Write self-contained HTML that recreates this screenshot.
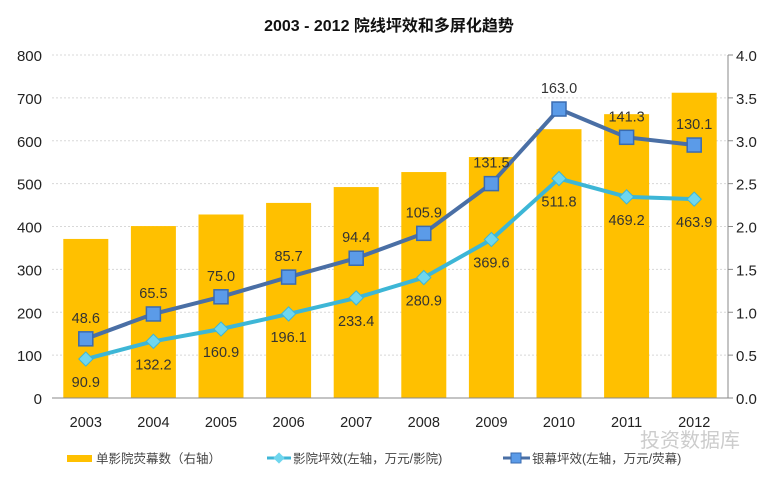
<!DOCTYPE html>
<html><head><meta charset="utf-8">
<style>
body{margin:0;background:#fff;}
svg{display:block;font-family:"Liberation Sans","Noto Sans CJK SC",sans-serif;}
</style></head>
<body>
<svg id="chart" width="778" height="482" viewBox="0 0 778 482">
<text x="389" y="31" text-anchor="middle" font-size="16" font-weight="bold" fill="#111">2003 - 2012 院线坪效和多屏化趋势</text>
<g id="grid"></g>
<g id="bars"></g>
<g id="axes"></g>
<g id="lines"></g>
<g id="legend">
  <g>
    <rect x="67" y="455" width="25" height="7" fill="#FFC000"/>
    <text x="96" y="463" font-size="12.5" fill="#444">单影院荧幕数（右轴）</text>
  </g>
  <g>
    <line x1="267" y1="458" x2="291" y2="458" stroke="#3DB6D6" stroke-width="3"/>
    <rect x="275" y="454" width="8" height="8" fill="#6FD6EE" transform="rotate(45 279 458)"/>
    <text x="293" y="463" font-size="12.5" fill="#444">影院坪效(左轴，万元/影院)</text>
  </g>
  <g>
    <line x1="503" y1="458" x2="530" y2="458" stroke="#4A6FA5" stroke-width="3"/>
    <rect x="511" y="453" width="10" height="10" fill="#5B9BE8" stroke="#3A6BB0"/>
    <text x="532" y="463" font-size="12.5" fill="#444">银幕坪效(左轴，万元/荧幕)</text>
  </g>
</g>
<text x="640" y="447" font-size="20" fill="#ccc">投资数据库</text>
</svg>
<script>
const categories = ["2003","2004","2005","2006","2007","2008","2009","2010","2011","2012"];
const barValues = [371,401,428,455,492,527,562,627,662,712];
const cinemaEff = [90.9,132.2,160.9,196.1,233.4,280.9,369.6,511.8,469.2,463.9];
const screenEffPlot = [0.69,0.98,1.18,1.41,1.63,1.92,2.50,3.37,3.04,2.95];
const screenEffLabels = ["48.6","65.5","75.0","85.7","94.4","105.9","131.5","163.0","141.3","130.1"];
const leftTicks = [0,100,200,300,400,500,600,700,800];
const rightTicks = ["0.0","0.5","1.0","1.5","2.0","2.5","3.0","3.5","4.0"];

const NS="http://www.w3.org/2000/svg";
const X0=52,X1=728,Y0=398,Y1=55;
const step=(X1-X0)/categories.length;
function xc(i){return X0+step*(i+0.5);}
function yl(v){return Y0-(v/800)*(Y0-Y1);}
function yr(v){return Y0-(v/4)*(Y0-Y1);}
function mk(tag,attrs,parent,txt){const e=document.createElementNS(NS,tag);for(const k in attrs)e.setAttribute(k,attrs[k]);if(txt!==undefined)e.textContent=txt;parent.appendChild(e);return e;}

const grid=document.getElementById('grid'),bars=document.getElementById('bars'),axes=document.getElementById('axes'),lines=document.getElementById('lines');
leftTicks.forEach((t,i)=>{
  const y=yl(t);
  if(t>0){const g=mk('line',{x1:X0,x2:X1,y1:y,y2:y,stroke:'#d8d8d8','stroke-dasharray':'2 2'},grid);
  
  }
  const l=mk('text',{x:42,y:y+6,'text-anchor':'end','font-size':'15',fill:'#222'},axes,String(t));
  
  
  const r=mk('text',{x:736,y:yr(parseFloat(rightTicks[i]))+6,'font-size':'15',fill:'#222'},axes,rightTicks[i]);
  
  
  const tk=mk('line',{x1:X1,x2:X1+5,y1:y,y2:y,stroke:'#888'},axes);
  
  
});
const ax=mk('line',{x1:X0,x2:X1,y1:Y0,y2:Y0,stroke:'#888'},axes);


const ra=mk('line',{x1:X1,x2:X1,y1:Y1,y2:Y0,stroke:'#888'},axes);



categories.forEach((c,i)=>{
  const y=yl(barValues[i]);
  const b=mk('rect',{x:xc(i)-22.5,y:y,width:45,height:Y0-y,fill:'#FFC000'},bars);
  
  
  const t=mk('text',{x:xc(i),y:427,'text-anchor':'middle','font-size':'14.5',fill:'#222'},axes,c);
  
  
});

function poly(vals,fy,color){
  const p=mk('polyline',{points:vals.map((v,i)=>xc(i)+','+fy(v)).join(' '),fill:'none',stroke:color,'stroke-width':'4','stroke-linejoin':'round'},lines);
  return p;
}
const l1=poly(cinemaEff,yl,'#3DB6D6');


const l2=poly(screenEffPlot,yr,'#4A6FA5');



cinemaEff.forEach((v,i)=>{
  const x=xc(i),y=yl(v);
  const m=mk('rect',{x:x-5,y:y-5,width:10,height:10,fill:'#6FD6EE',stroke:'#3DB6D6',transform:'rotate(45 '+x+' '+y+')'},lines);
  
  
  const t=mk('text',{x:x,y:y+28,'text-anchor':'middle','font-size':'14.5',fill:'#333'},lines,v.toFixed(1));
  
  
});
screenEffPlot.forEach((v,i)=>{
  const x=xc(i),y=yr(v);
  const m=mk('rect',{x:x-7,y:y-7,width:14,height:14,fill:'#5B9BE8',stroke:'#3A6BB0','stroke-width':'1.5'},lines);
  
  
  const t=mk('text',{x:x,y:y-16,'text-anchor':'middle','font-size':'14.5',fill:'#333'},lines,screenEffLabels[i]);
  
  
});
</script>
</body></html>
